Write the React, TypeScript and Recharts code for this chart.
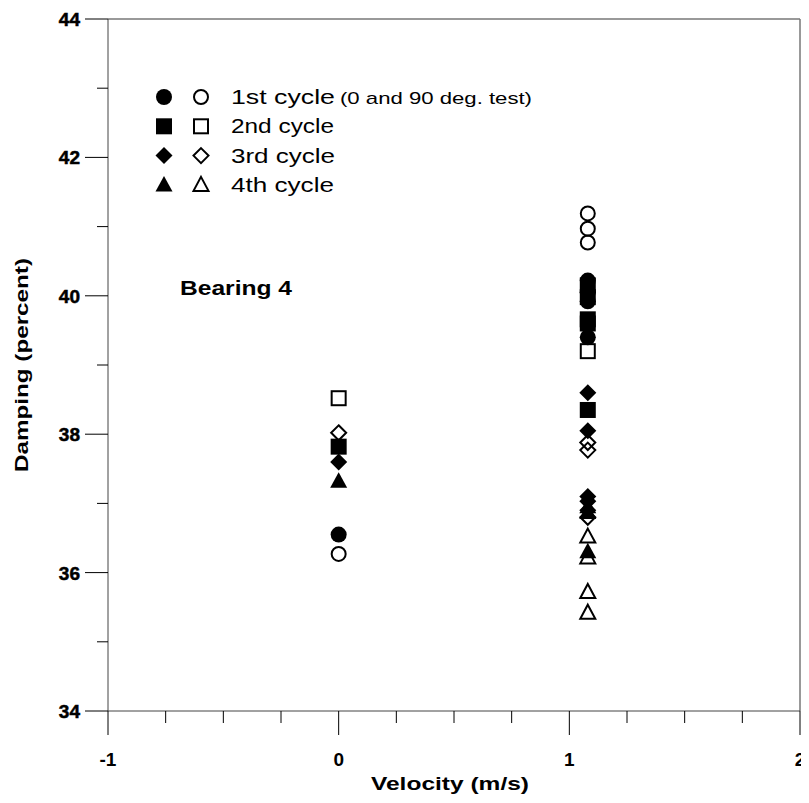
import React from 'react';
import {
  ScatterChart,
  Scatter,
  XAxis,
  YAxis,
  ReferenceLine,
  Label,
} from 'recharts';

// [velocity, damping] pairs
const cycle1Filled = [[0, 36.55], [1.08, 40.22], [1.08, 40.05], [1.08, 39.92], [1.08, 39.4]];
const cycle1Open = [[0, 36.27], [1.08, 41.19], [1.08, 40.97], [1.08, 40.77]];
const cycle2Filled = [[0, 37.82], [1.08, 40.15], [1.08, 39.98], [1.08, 39.66], [1.08, 39.6], [1.08, 38.35]];
const cycle2Open = [[0, 38.52], [1.08, 39.2]];
const cycle3Filled = [[0, 37.6], [1.08, 38.6], [1.08, 38.05], [1.08, 37.1], [1.08, 37.03], [1.08, 36.9]];
const cycle3Open = [[0, 38.02], [1.08, 37.88], [1.08, 37.77], [1.08, 36.8]];
const cycle4Filled = [[0, 37.32], [1.08, 36.95], [1.08, 36.87], [1.08, 36.3]];
const cycle4Open = [[1.08, 36.52], [1.08, 36.22], [1.08, 35.72], [1.08, 35.42]];

const xTicks = [-1, -0.75, -0.5, -0.25, 0, 0.25, 0.5, 0.75, 1, 1.25, 1.5, 1.75, 2];
const yTicks = [34, 35, 36, 37, 38, 39, 40, 41, 42, 43, 44];

const legendRows = [
  { kind: 'circle', label: '1st cycle', len: 104, note: '(0 and 90 deg. test)' },
  { kind: 'square', label: '2nd cycle', len: 103 },
  { kind: 'diamond', label: '3rd cycle', len: 104 },
  { kind: 'triangle', label: '4th cycle', len: 103 },
];

const FONT = '"Liberation Sans", Arial, Helvetica, sans-serif';

const toPoints = (arr: number[][]) => arr.map(([x, y]) => ({ x, y }));

function Marker({ kind, filled, cx, cy }: { kind: string; filled: boolean; cx: number; cy: number }) {
  const fill = filled ? '#000' : 'none';
  const stroke = '#000';
  const sw = filled ? 0 : 2;
  if (kind === 'circle') {
    return <circle cx={cx} cy={cy} r={filled ? 8 : 7} fill={fill} stroke={stroke} strokeWidth={sw} />;
  }
  if (kind === 'square') {
    const h = filled ? 8 : 7;
    return <rect x={cx - h} y={cy - h} width={h * 2} height={h * 2} fill={fill} stroke={stroke} strokeWidth={sw} />;
  }
  if (kind === 'diamond') {
    const h = filled ? 8.5 : 7.5;
    return (
      <polygon
        points={`${cx},${cy - h} ${cx + h},${cy} ${cx},${cy + h} ${cx - h},${cy}`}
        fill={fill}
        stroke={stroke}
        strokeWidth={sw}
      />
    );
  }
  const w = filled ? 8.5 : 7.5;
  const t = filled ? 9 : 8;
  const b = filled ? 6.5 : 6;
  return (
    <polygon
      points={`${cx},${cy - t} ${cx + w},${cy + b} ${cx - w},${cy + b}`}
      fill={fill}
      stroke={stroke}
      strokeWidth={sw}
      strokeLinejoin="miter"
    />
  );
}

const shapeFor = (kind: string, filled: boolean) => (props: any) =>
  <Marker kind={kind} filled={filled} cx={props.cx} cy={props.cy} />;

const XTick = (props: any) => {
  const { x, y, payload } = props;
  const v = payload.value;
  const major = Number.isInteger(v);
  return (
    <g>
      <line x1={x} x2={x} y1={y} y2={y + (major ? 24 : 12)} stroke="#000" strokeWidth={1} />
      {major && (
        <text x={x} y={y + 55} textAnchor="middle" fontFamily={FONT} fontWeight="bold" fontSize={19} fill="#000">
          {v}
        </text>
      )}
    </g>
  );
};

const YTick = (props: any) => {
  const { x, y, payload } = props;
  const v = payload.value;
  const major = v % 2 === 0;
  return (
    <g>
      <line x1={x - (major ? 23 : 11)} x2={x} y1={y} y2={y} stroke="#000" strokeWidth={1} />
      {major && (
        <text
          x={x - 28}
          y={y + 7}
          textAnchor="end"
          fontFamily={FONT}
          fontWeight="bold"
          fontSize={19}
          fill="#000"
          stroke="#000"
          strokeWidth={0.5}
        >
          {v}
        </text>
      )}
    </g>
  );
};

export default function App() {
  const series = [
    { kind: 'circle', filled: true, data: cycle1Filled },
    { kind: 'square', filled: true, data: cycle2Filled },
    { kind: 'diamond', filled: true, data: cycle3Filled },
    { kind: 'triangle', filled: true, data: cycle4Filled },
    { kind: 'circle', filled: false, data: cycle1Open },
    { kind: 'square', filled: false, data: cycle2Open },
    { kind: 'diamond', filled: false, data: cycle3Open },
    { kind: 'triangle', filled: false, data: cycle4Open },
  ];

  return (
    <div style={{ position: 'relative', width: 801, height: 795, background: '#fff' }}>
      <ScatterChart width={801} height={795} margin={{ top: 11, right: 9, left: 0, bottom: 0 }}>
        <XAxis
          type="number"
          dataKey="x"
          domain={[-1, 2]}
          ticks={xTicks}
          allowDataOverflow
          height={92}
          stroke="#444"
          tickLine={false}
          tickSize={0}
          tickMargin={0}
          tick={<XTick />}
          interval={0}
        >
          <Label
            content={({ viewBox }: any) => (
              <text
                x={viewBox.x + viewBox.width / 2 - 4}
                y={viewBox.y + 79}
                textAnchor="middle"
                fontFamily={FONT}
                fontWeight="bold"
                fontSize={19}
                textLength={158}
                lengthAdjust="spacingAndGlyphs"
                fill="#000"
              >
                Velocity (m/s)
              </text>
            )}
          />
        </XAxis>
        <YAxis
          type="number"
          dataKey="y"
          domain={[34, 44]}
          ticks={yTicks}
          allowDataOverflow
          width={100}
          stroke="#444"
          tickLine={false}
          tickSize={0}
          tickMargin={0}
          tick={<YTick />}
          interval={0}
        >
          <Label
            content={({ viewBox }: any) => {
              const cx = 13;
              const cy = viewBox.y + viewBox.height / 2;
              return (
                <text
                  x={cx}
                  y={cy}
                  transform={`rotate(-90, ${cx}, ${cy})`}
                  textAnchor="middle"
                  dominantBaseline="central"
                  fontFamily={FONT}
                  fontWeight="bold"
                  fontSize={19}
                  textLength={214}
                  lengthAdjust="spacingAndGlyphs"
                  fill="#000"
                >
                  Damping (percent)
                </text>
              );
            }}
          />
        </YAxis>
        <ReferenceLine y={44} stroke="#777" strokeWidth={1.5} />
        <ReferenceLine x={2} stroke="#777" strokeWidth={1.5} />
        {series.map((s, i) => (
          <Scatter
            key={i}
            data={toPoints(s.data)}
            shape={shapeFor(s.kind, s.filled)}
            isAnimationActive={false}
          />
        ))}
      </ScatterChart>
      <svg
        width={801}
        height={795}
        style={{ position: 'absolute', left: 0, top: 0, pointerEvents: 'none' }}
      >
        {legendRows.map((r, i) => {
          const cy = 89 + i * 29.3;
          return (
            <g key={r.kind}>
              <Marker kind={r.kind} filled cx={156} cy={cy} />
              <Marker kind={r.kind} filled={false} cx={193} cy={cy} />
              <text
                x={223}
                y={cy + 7}
                fontFamily={FONT}
                fontSize={20}
                textLength={r.len}
                lengthAdjust="spacingAndGlyphs"
                fill="#000"
              >
                {r.label}
              </text>
              {r.note && (
                <text
                  x={332}
                  y={cy + 7}
                  fontFamily={FONT}
                  fontSize={17}
                  textLength={192}
                  lengthAdjust="spacingAndGlyphs"
                  fill="#000"
                >
                  {r.note}
                </text>
              )}
            </g>
          );
        })}
        <text
          x={172}
          y={287}
          fontFamily={FONT}
          fontWeight="bold"
          fontSize={20}
          textLength={112}
          lengthAdjust="spacingAndGlyphs"
          fill="#000"
        >
          Bearing 4
        </text>
      </svg>
    </div>
  );
}
